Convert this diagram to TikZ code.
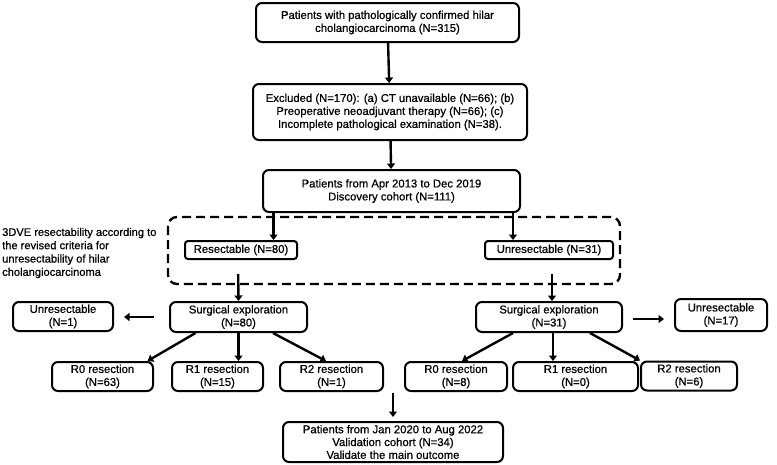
\documentclass[tikz,border=0pt]{standalone}
\usepackage{fontspec}
\setmainfont{Liberation Sans}[BoldFont={Liberation Sans}, BoldFeatures={FakeBold=0.7}]
\usetikzlibrary{arrows.meta}

\tikzset{
	box/.style = {draw, line width=2pt, rounded corners=6pt, align=center, inner sep=0pt,
		font=\fontsize{11.3}{13}\selectfont\bfseries},
	arr/.style = {line width=2.4pt, -{Triangle[length=5.5pt,width=8pt]}},
}

\begin{document}
\begin{tikzpicture}[x=1pt, y=-1pt]
	\useasboundingbox (0,0) rectangle (777,464);
	\node[box, minimum width=263pt, minimum height=39pt] (top) at (387.5,22.5) {Patients with pathologically confirmed hilar\\cholangiocarcinoma (N=315)};
	\node[box, minimum width=274pt, minimum height=56pt] (excl) at (390,112) {Excluded (N=170): (a) CT unavailable (N=66); (b)\\Preoperative neoadjuvant therapy (N=66); (c)\\Incomplete pathological examination (N=38).};
	\node[box, minimum width=257pt, minimum height=42pt] (disc) at (391.5,191) {Patients from Apr 2013 to Dec 2019\\Discovery cohort (N=111)};
	\draw[line width=2.4pt, dash pattern=on 9pt off 5pt, rounded corners=9pt] (168,217) rectangle (620,284);
	\node[align=left, anchor=west, inner sep=0pt, font=\fontsize{11.1}{13.3}\selectfont\bfseries] (crit) at (2,253) {3DVE resectability according to\\the revised criteria for\\unresectability of hilar\\cholangiocarcinoma};
	\node[box, rounded corners=3pt, minimum width=112pt, minimum height=18pt] (res) at (241,250) {Resectable (N=80)};
	\node[box, rounded corners=3pt, minimum width=128pt, minimum height=18pt] (unres) at (549,250) {Unresectable (N=31)};
	\node[box, minimum width=137pt, minimum height=30pt] (surgL) at (238.5,317) {Surgical exploration\\(N=80)};
	\node[box, minimum width=146pt, minimum height=30pt] (surgR) at (549,317) {Surgical exploration\\(N=31)};
	\node[box, minimum width=100pt, minimum height=29pt] (unresL) at (63,316.5) {Unresectable\\(N=1)};
	\node[box, minimum width=92pt, minimum height=32pt] (unresR) at (721,315) {Unresectable\\(N=17)};
	\node[box, minimum width=101pt, minimum height=29pt] (rzeroL) at (102.5,376.5) {R0 resection\\(N=63)};
	\node[box, minimum width=91pt, minimum height=29pt] (roneL) at (217.5,376.5) {R1 resection\\(N=15)};
	\node[box, minimum width=103pt, minimum height=29pt] (rtwoL) at (331.5,376.5) {R2 resection\\(N=1)};
	\node[box, minimum width=102pt, minimum height=29pt] (rzeroR) at (456,376.5) {R0 resection\\(N=8)};
	\node[box, minimum width=125pt, minimum height=29pt] (roneR) at (575.5,376.5) {R1 resection\\(N=0)};
	\node[box, minimum width=96pt, minimum height=29pt] (rtwoR) at (689,376) {R2 resection\\(N=6)};
	\node[box, minimum width=220pt, minimum height=40pt, font=\fontsize{11.3}{12.8}\selectfont\bfseries] (valid) at (393,442) {Patients from Jan 2020 to Aug 2022\\Validation cohort (N=34)\\Validate the main outcome};
	\draw[arr] (top) -- (excl);
	\draw[arr] (excl) -- (disc);
	\draw[arr] ([xshift=-118pt]disc.south) -- ([xshift=-118pt]disc.south |- res.north);
	\draw[arr] ([xshift=121.5pt]disc.south) -- ([xshift=121.5pt]disc.south |- unres.north);
	\draw[arr, shorten <=14pt] ([xshift=-3pt]res.south) -- (surgL.north);
	\draw[arr, shorten <=14pt] ([xshift=3pt]unres.south) -- ([xshift=3pt]surgR.north);
	\draw[arr, shorten <=15pt, shorten >=10pt] (surgL.west) -- (surgL.west -| unresL.east);
	\draw[arr, shorten <=10pt, shorten >=10pt] ([yshift=-2pt]surgR.east) -- ([yshift=-2pt]surgR.east -| unresR.west);
	\draw[arr] ([xshift=-43pt]surgL.south) -- ([xshift=45pt]rzeroL.north);
	\draw[arr] (surgL.south) -- (surgL.south |- roneL.north);
	\draw[arr] ([xshift=34.5pt]surgL.south) -- ([xshift=-5.5pt]rtwoL.north);
	\draw[arr] ([xshift=-36pt]surgR.south) -- ([xshift=6pt]rzeroR.north);
	\draw[arr] ([xshift=4pt]surgR.south) -- ([xshift=4pt]surgR.south |- roneR.north);
	\draw[arr] ([xshift=41pt]surgR.south) -- (rtwoR.north west);
	\draw[arr, shorten <=1pt, shorten >=4pt] (valid.north |- rtwoL.south) -- (valid.north);
\end{tikzpicture}
\end{document}
